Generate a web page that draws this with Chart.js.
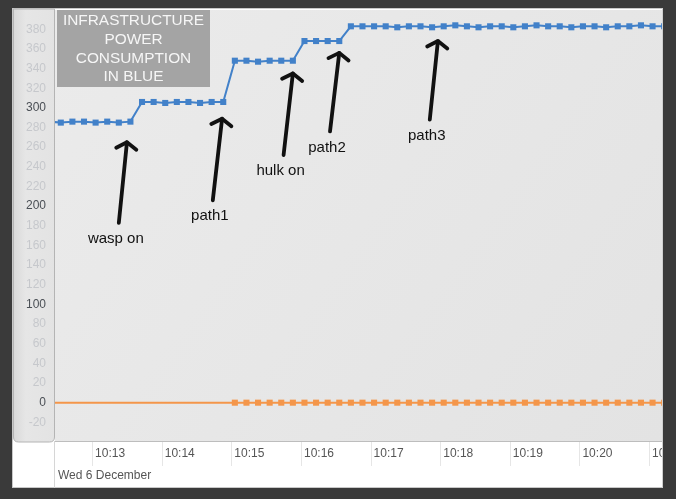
<!DOCTYPE html>
<html><head><meta charset="utf-8">
<script src="https://cdn.jsdelivr.net/npm/chart.js@4/dist/chart.umd.min.js"></script>
<style>html,body{margin:0;padding:0;background:#3a3a3a;overflow:hidden}canvas{display:block}</style>
</head><body><canvas id="c" width="676" height="499"></canvas>
<script>
// ---- data ----
const times = [
  "10:12:23","10:12:33","10:12:43","10:12:53","10:13:03","10:13:13","10:13:23","10:13:33",
  "10:13:43","10:13:53","10:14:03","10:14:13","10:14:23","10:14:33","10:14:43","10:14:53",
  "10:15:03","10:15:13","10:15:23","10:15:33","10:15:43","10:15:53",
  "10:16:03","10:16:13","10:16:23","10:16:33",
  "10:16:43","10:16:53","10:17:03","10:17:13","10:17:23","10:17:33","10:17:43","10:17:53",
  "10:18:03","10:18:13","10:18:23","10:18:33","10:18:43","10:18:53",
  "10:19:03","10:19:13","10:19:23","10:19:33","10:19:43","10:19:53",
  "10:20:03","10:20:13","10:20:23","10:20:33","10:20:43","10:20:53",
  "10:21:03","10:21:13"
];
const bluePower = [
  286,285,286,286,285,286,285,286,
  306,306,305,306,306,305,306,306,
  348,348,347,348,348,348,
  368,368,368,368,
  383,383,383,383,382,383,383,382,
  383,384,383,382,383,383,
  382,383,384,383,383,382,
  383,383,382,383,383,384,
  383,383
];
const orangePower = [
  0,0,0,0,0,0,0,0,
  0,0,0,0,0,0,0,0,
  0,0,0,0,0,0,
  0,0,0,0,
  0,0,0,0,0,0,0,0,
  0,0,0,0,0,0,
  0,0,0,0,0,0,
  0,0,0,0,0,0,
  0,0
];
const orangeMarkersFrom = "10:15:03";
const xMin = "10:12:28";
const xMax = "10:21:12";
const yMin = -39;
const yMax = 399.6;
const dateLabel = "Wed 6 December";
const titleLines = ["INFRASTRUCTURE", "POWER", "CONSUMPTION", "IN BLUE"];
const noteLabels = ["wasp on", "path1", "hulk on", "path2", "path3"];
const noteTipTimes = ["10:13:30", "10:14:52", "10:15:53", "10:16:33", "10:17:58"];
const noteTipValues = [265, 289, 335, 356, 368];
const noteTailTimes = ["10:13:23", "10:14:44", "10:15:45", "10:16:25", "10:17:51"];
const noteTailValues = [183, 206, 252, 276, 288];

// ---- helpers ----
const toSec = s => { const p = s.split(':').map(Number); return p[0]*3600 + p[1]*60 + p[2]; };
const pad2 = n => (n < 10 ? '0' : '') + n;
const BLUE = '#4281c9';
const ORANGE = '#f4964a';
const FONT = "'Liberation Sans', Arial, sans-serif";

const frame = {
  id: 'frame',
  beforeDraw(chart) {
    const {ctx, chartArea: a} = chart;
    ctx.save();
    ctx.fillStyle = '#3a3a3a'; ctx.fillRect(0, 0, 676, 499);
    ctx.fillStyle = '#ffffff'; ctx.fillRect(12, 8, 651, 480);
    ctx.strokeStyle = '#c8c8c8'; ctx.lineWidth = 1; ctx.strokeRect(12.5, 8.5, 650, 479);
    const g = ctx.createLinearGradient(a.left, a.top, a.right, a.bottom);
    g.addColorStop(0, '#ebebeb'); g.addColorStop(1, '#e3e3e3');
    ctx.fillStyle = g; ctx.fillRect(a.left, a.top, a.right - a.left, a.bottom - a.top);
    // y-axis panel
    const x0 = 13.5, x1 = a.left - 0.5, y0 = a.top - 1, y1 = a.bottom + 1, r = 5;
    const pg = ctx.createLinearGradient(x0, 0, x1, 0);
    pg.addColorStop(0, '#d9d9d9'); pg.addColorStop(0.3, '#e6e6e6'); pg.addColorStop(1, '#e3e3e3');
    ctx.beginPath();
    ctx.moveTo(x0, y0); ctx.lineTo(x1, y0); ctx.lineTo(x1, y1 - r);
    ctx.quadraticCurveTo(x1, y1, x1 - r, y1); ctx.lineTo(x0 + r, y1);
    ctx.quadraticCurveTo(x0, y1, x0, y1 - r); ctx.closePath();
    ctx.fillStyle = pg; ctx.fill();
    ctx.strokeStyle = '#b4b4b4'; ctx.stroke();
    // x-axis area lines
    ctx.strokeStyle = '#bdbdbd';
    ctx.beginPath(); ctx.moveTo(a.left, a.bottom + 0.5); ctx.lineTo(a.right, a.bottom + 0.5); ctx.stroke();
    ctx.strokeStyle = '#d6d6d6';
    ctx.beginPath(); ctx.moveTo(a.left - 0.5, a.bottom); ctx.lineTo(a.left - 0.5, 488); ctx.stroke();
    const xs = chart.scales.x;
    ctx.strokeStyle = '#e6e6e6';
    xs.ticks.forEach(t => {
      const px = Math.round(xs.getPixelForValue(t.value)) + 0.5;
      ctx.beginPath(); ctx.moveTo(px, a.bottom + 1); ctx.lineTo(px, a.bottom + 25); ctx.stroke();
    });
    ctx.fillStyle = '#555';
    ctx.font = '12px ' + FONT;
    ctx.textBaseline = 'middle'; ctx.textAlign = 'left';
    ctx.fillText(dateLabel, a.left + 3, 476);
    ctx.restore();
  },
  afterDatasetsDraw(chart) {
    const {ctx, chartArea: a, scales: {x, y}} = chart;
    ctx.save();
    // title box
    const bx = a.left + 2, by = a.top, bw = 153, bh = 77;
    ctx.fillStyle = '#a4a4a4'; ctx.fillRect(bx, by, bw, bh);
    ctx.fillStyle = '#f6f6f6'; ctx.font = '15.4px ' + FONT;
    ctx.textAlign = 'center'; ctx.textBaseline = 'middle';
    titleLines.forEach((s, i) => ctx.fillText(s, bx + bw / 2, by + 11 + i * 18.7));
    // arrows
    ctx.strokeStyle = '#111'; ctx.fillStyle = '#111';
    ctx.lineWidth = 3.8; ctx.lineCap = 'round'; ctx.lineJoin = 'round';
    noteLabels.forEach((lab, i) => {
      const tx = x.getPixelForValue(toSec(noteTipTimes[i])), ty = y.getPixelForValue(noteTipValues[i]);
      const sx = x.getPixelForValue(toSec(noteTailTimes[i])), sy = y.getPixelForValue(noteTailValues[i]);
      ctx.beginPath(); ctx.moveTo(sx, sy); ctx.lineTo(tx, ty); ctx.stroke();
      const ang = Math.atan2(sy - ty, sx - tx), L = 12, sp = 1.0;
      ctx.beginPath();
      ctx.moveTo(tx + L * Math.cos(ang - sp), ty + L * Math.sin(ang - sp));
      ctx.lineTo(tx, ty);
      ctx.lineTo(tx + L * Math.cos(ang + sp), ty + L * Math.sin(ang + sp));
      ctx.stroke();
      ctx.font = '15px ' + FONT; ctx.textAlign = 'center'; ctx.textBaseline = 'middle';
      ctx.fillText(lab, sx - 3, sy + 16);
    });
    ctx.restore();
  },
  afterDraw(chart) {
    const {ctx} = chart;
    ctx.save();
    ctx.fillStyle = '#3a3a3a'; ctx.fillRect(663, 0, 13, 499);
    ctx.strokeStyle = '#cfcfcf'; ctx.beginPath(); ctx.moveTo(662.5, 8); ctx.lineTo(662.5, 488); ctx.stroke();
    ctx.restore();
  }
};

const orangeFrom = toSec(orangeMarkersFrom);
new Chart(document.getElementById('c'), {
  type: 'line',
  data: {
    datasets: [
      {
        data: times.map((t, i) => ({x: toSec(t), y: bluePower[i]})),
        borderColor: BLUE, backgroundColor: BLUE, borderWidth: 2,
        pointStyle: 'rect', pointRadius: 4.3, pointBorderWidth: 0,
        pointBackgroundColor: BLUE, tension: 0
      },
      {
        data: times.map((t, i) => ({x: toSec(t), y: orangePower[i]})),
        borderColor: ORANGE, backgroundColor: ORANGE, borderWidth: 2,
        pointStyle: 'rect', pointBorderWidth: 0, pointBackgroundColor: ORANGE,
        pointRadius: ctx => (toSec(times[ctx.dataIndex]) >= orangeFrom ? 4.3 : 0),
        tension: 0
      }
    ]
  },
  options: {
    responsive: false, animation: false, devicePixelRatio: 1,
    layout: {padding: {left: 12, right: 13, top: 10, bottom: 11}},
    plugins: {legend: {display: false}, tooltip: {enabled: false}},
    scales: {
      x: {
        type: 'linear', min: toSec(xMin), max: toSec(xMax),
        grid: {display: false, drawTicks: false}, border: {display: false},
        ticks: {
          stepSize: 60, includeBounds: false, autoSkip: false, maxRotation: 0,
          labelOffset: 18, padding: 5, color: '#555',
          font: {family: FONT, size: 12},
          callback: v => Math.floor(v / 3600) + ':' + pad2(Math.floor((v % 3600) / 60))
        },
        afterFit: s => { s.height = 47; s.paddingLeft = 0; s.paddingRight = 0; }
      },
      y: {
        min: yMin, max: yMax,
        grid: {display: false, drawTicks: false}, border: {display: false},
        ticks: {
          stepSize: 20, includeBounds: false, padding: 9,
          font: {family: FONT, size: 12},
          color: c => (c.tick && c.tick.value % 100 === 0 ? '#4a4f55' : '#c6c8cc')
        },
        afterFit: s => { s.width = 43; s.paddingTop = 0; s.paddingBottom = 0; }
      }
    }
  },
  plugins: [frame]
});
</script>
</body></html>
